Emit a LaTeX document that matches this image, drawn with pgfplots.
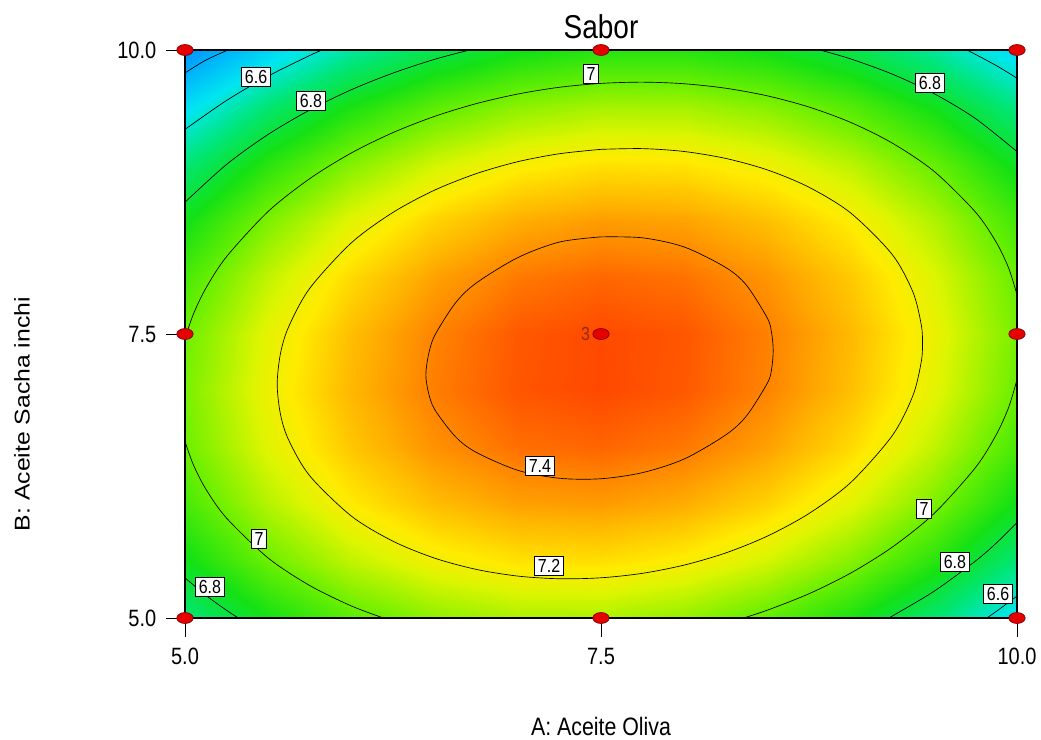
\documentclass[border=0pt]{standalone}
\usepackage{pgfplots}
\pgfplotsset{compat=1.18}
\usepackage{pgfplotstable}
\usepackage{graphicx}
\usepackage{fontspec}
\setmainfont{Liberation Sans}

\definecolor{mkfill}{RGB}{230,0,0}
\definecolor{mkdraw}{RGB}{120,0,0}
\definecolor{threecol}{RGB}{150,40,20}
\newcommand{\vs}[1]{\scalebox{1}[1.18]{#1}}

% response surface (Sabor) on a 11 x 11 grid: x = A, y = B, z = Sabor
\pgfplotstableread{
x y z
5 5 6.698
5.5 5 6.850
6 5 6.966
6.5 5 7.043
7 5 7.083
7.5 5 7.085
8 5 7.049
8.5 5 6.975
9 5 6.864
9.5 5 6.714
10 5 6.528
5 5.5 6.837
5.5 5.5 6.993
6 5.5 7.112
6.5 5.5 7.193
7 5.5 7.236
7.5 5.5 7.242
8 5.5 7.210
8.5 5.5 7.140
9 5.5 7.032
9.5 5.5 6.887
10 5.5 6.703
5 6 6.936
5.5 6 7.096
6 6 7.219
6.5 6 7.304
7 6 7.351
7.5 6 7.360
8 6 7.331
8.5 6 7.265
9 6 7.161
9.5 6 7.019
10 6 6.840
5 6.5 6.996
5.5 6.5 7.160
6 6.5 7.286
6.5 6.5 7.375
7 6.5 7.425
7.5 6.5 7.438
8 6.5 7.413
8.5 6.5 7.351
9 6.5 7.250
9.5 6.5 7.112
10 6.5 6.936
5 7 7.016
5.5 7 7.184
6 7 7.314
6.5 7 7.406
7 7 7.460
7.5 7 7.477
8 7 7.456
8.5 7 7.397
9 7 7.300
9.5 7 7.166
10 7 6.993
5 7.5 6.997
5.5 7.5 7.168
6 7.5 7.302
6.5 7.5 7.398
7 7.5 7.456
7.5 7.5 7.476
8 7.5 7.459
8.5 7.5 7.403
9 7.5 7.310
9.5 7.5 7.180
10 7.5 7.011
5 8 6.938
5.5 8 7.113
6 8 7.251
6.5 8 7.350
7 8 7.412
7.5 8 7.436
8 8 7.422
8.5 8 7.370
9 8 7.281
9.5 8 7.154
10 8 6.989
5 8.5 6.840
5.5 8.5 7.019
6 8.5 7.160
6.5 8.5 7.263
7 8.5 7.328
7.5 8.5 7.356
8 8.5 7.346
8.5 8.5 7.298
9 8.5 7.212
9.5 8.5 7.089
10 8.5 6.928
5 9 6.702
5.5 9 6.884
6 9 7.029
6.5 9 7.136
7 9 7.205
7.5 9 7.236
8 9 7.230
8.5 9 7.186
9 9 7.104
9.5 9 6.984
10 9 6.826
5 9.5 6.525
5.5 9.5 6.711
6 9.5 6.859
6.5 9.5 6.969
7 9.5 7.042
7.5 9.5 7.077
8 9.5 7.074
8.5 9.5 7.034
9 9.5 6.956
9.5 9.5 6.840
10 9.5 6.686
5 10 6.308
5.5 10 6.497
6 10 6.649
6.5 10 6.763
7 10 6.840
7.5 10 6.879
8 10 6.879
8.5 10 6.843
9 10 6.768
9.5 10 6.656
10 10 6.506
}\surfdata

\pgfplotstableread{
x y
5 5
7.5 5
10 5
5 7.5
10 7.5
5 10
7.5 10
10 10
7.5 7.5
}\designpts

\tikzset{clab/.style={fill=white, draw=black, line width=0.4pt, inner xsep=2.4pt, inner ysep=2.2pt, font=\fontsize{12}{12}\selectfont}}

\begin{document}
\begin{tikzpicture}
\begin{axis}[
  at={(0pt,0pt)}, anchor=south west,
  width=624pt, height=426pt, scale only axis,
  xmin=5, xmax=10, ymin=5, ymax=10,
  xtick={5,7.5,10}, ytick={5,7.5,10},
  xticklabels={\vs{5.0},\vs{7.5},\vs{10.0}}, yticklabels={\vs{5.0},\vs{7.5},\vs{10.0}},
  tick align=outside, tick pos=left, major tick length=14pt,
  tick style={black, line width=0.6pt},
  ticklabel style={font=\fontsize{15}{18}\selectfont},
  yticklabel style={xshift=-4pt},
  xticklabel style={yshift=-5pt},
  axis line style={line width=0.8pt},
  clip=false,
  colormap={de}{rgb255(620pt)=(0,90,255); rgb255(635pt)=(0,160,255); rgb255(655pt)=(0,230,240); rgb255(670pt)=(0,230,120); rgb255(685pt)=(20,225,20); rgb255(700pt)=(110,240,0); rgb255(715pt)=(220,245,0); rgb255(722pt)=(255,235,0); rgb255(732pt)=(255,180,0); rgb255(740pt)=(255,130,0); rgb255(748pt)=(255,70,0); rgb255(760pt)=(255,20,0)},
  point meta min=6.2, point meta max=7.6,
  every axis title shift=0pt,
  title={\vs{Sabor}},
  title style={font=\fontsize{21}{25}\selectfont, at={(axis description cs:0.5,1.021)}, anchor=base},
  xlabel={\vs{A: Aceite Oliva}},
  xlabel style={font=\fontsize{16}{19}\selectfont, at={(axis description cs:0.5,-0.206)}, anchor=base},
  ylabel={\scalebox{1.16}[1]{B: Aceite Sacha inchi}},
  ylabel style={font=\fontsize{16}{19}\selectfont, at={(axis description cs:-0.196,0.359)}, anchor=center},
]
\addplot[surf, shader=interp, mesh/rows=11, mesh/cols=11, point meta=\thisrow{z}] table[x=x, y=y] {\surfdata};

% contour lines
\addplot[black, line width=0.5pt, smooth] coordinates {(5.259,10) (5.125,9.911) (5,9.798)};
\addplot[black, line width=0.5pt, smooth] coordinates {(5.824,10) (5.75,9.952) (5.5,9.7705) (5.25,9.556) (5,9.301)};
\addplot[black, line width=0.5pt, smooth] coordinates {(6.71,10) (6.5,9.918) (6.25,9.797) (6.0,9.6505) (5.75,9.472) (5.5,9.257) (5.25,8.993) (5,8.660)};
\addplot[black, line width=0.5pt, smooth] coordinates {(5,7.46) (5.05,7.6735) (5.125,7.902) (5.25,8.1815) (5.5,8.579) (5.75,8.868) (6,9.094) (6.25,9.273) (6.5,9.416) (6.75,9.528) (7,9.6125) (7.25,9.672) (7.5,9.706) (7.75,9.717) (8,9.703) (8.25,9.6635) (8.5,9.5965) (8.75,9.498) (9,9.363) (9.25,9.181) (9.5,8.934) (9.75,8.574) (9.875,8.308) (9.95,8.08) (10,7.846)};
\addplot[black, line width=0.5pt, smooth] coordinates {(5,6.554) (5.05,6.35) (5.125,6.1355) (5.25,5.879) (5.5,5.528) (5.75,5.2855) (6,5.106) (6.193,5)};
\addplot[black, line width=0.5pt, smooth] coordinates {(8.3565,5) (8.5,5.069) (8.75,5.2135) (9,5.395) (9.25,5.6235) (9.5,5.9175) (9.75,6.3235) (9.875,6.613) (9.95,6.855) (10,7.098)};
\addplot[black, line width=0.5pt, smooth] coordinates {(8.815,10) (9,9.922) (9.25,9.788) (9.5,9.617) (9.75,9.397) (10,9.1055)};
\addplot[black, line width=0.5pt, smooth] coordinates {(5,5.354) (5.125,5.2) (5.25,5.0675) (5.321,5)};
\addplot[black, line width=0.5pt, smooth] coordinates {(9.229,5) (9.25,5.017) (9.5,5.234) (9.75,5.501) (9.875,5.659) (10,5.839)};
\addplot[black, line width=0.5pt, smooth] coordinates {(9.7,10) (9.875,9.8635) (10,9.7515)};
\addplot[black, line width=0.5pt, smooth] coordinates {(9.818,5) (9.875,5.0575) (10,5.193)};
\addplot[black, line width=0.5pt, smooth] coordinates {(7.5,9.1255) (7.75,9.132) (8.0,9.1065) (8.25,9.0455) (8.5,8.9445) (8.75,8.792) (9.0,8.566) (9.25,8.2) (9.375,7.868) (9.425,7.579) (9.432,7.4195) (9.425,7.258) (9.375,6.96) (9.25,6.605) (9.0,6.192) (8.75,5.92) (8.5,5.721) (8.25,5.573) (8.0,5.466) (7.75,5.3935) (7.5,5.354) (7.25,5.3455) (7.0,5.369) (6.75,5.428) (6.5,5.527) (6.25,5.676) (6.0,5.897) (5.75,6.251) (5.625,6.5605) (5.575,6.784) (5.554,7.0585) (5.575,7.3375) (5.625,7.57) (5.75,7.9028) (6.0,8.303) (6.25,8.5705) (6.5,8.7665) (6.75,8.9115) (7.0,9.017) (7.25,9.087) (7.5,9.1255)};
\addplot[black, line width=0.5pt, smooth] coordinates {(7.5,8.355) (7.75,8.3466) (8.0,8.266) (8.25,8.0854) (8.375,7.9277) (8.5,7.6386) (8.525,7.5118) (8.535,7.3538) (8.525,7.189) (8.5,7.0685) (8.375,6.78) (8.25,6.612) (8.0,6.40) (7.75,6.28) (7.5,6.226) (7.25,6.23) (7.0,6.30) (6.75,6.4585) (6.625,6.5965) (6.5,6.837) (6.4625,6.989) (6.4475,7.1408) (6.4625,7.3113) (6.5,7.4848) (6.625,7.7728) (6.75,7.9484) (7.0,8.1726) (7.25,8.3095) (7.5,8.355)};

% frame
\draw[black, line width=0.8pt] (rel axis cs:0,0) rectangle (rel axis cs:1,1);

% contour labels
\node[clab] at (axis cs:5.427,9.762) {\vs{6.6}};
\node[clab] at (axis cs:5.757,9.551) {\vs{6.8}};
\node[clab] at (axis cs:7.44,9.789) {\vs{7}};
\node[clab] at (axis cs:9.477,9.71) {\vs{6.8}};
\node[clab] at (axis cs:7.133,6.338) {\vs{7.4}};
\node[clab] at (axis cs:7.188,5.458) {\vs{7.2}};
\node[clab] at (axis cs:5.445,5.695) {\vs{7}};
\node[clab] at (axis cs:5.15,5.273) {\vs{6.8}};
\node[clab] at (axis cs:9.441,5.96) {\vs{7}};
\node[clab] at (axis cs:9.627,5.493) {\vs{6.8}};
\node[clab] at (axis cs:9.886,5.211) {\vs{6.6}};

% design points
\addplot[only marks, mark=*, mark size=4.1pt, mark options={xscale=1.5, fill=mkfill, draw=mkdraw, line width=0.5pt}] table[x=x, y=y] {\designpts};
\node[anchor=east, text=threecol, font=\fontsize{12}{12}\selectfont, inner sep=0pt] at (axis cs:7.5,7.5) [xshift=-8pt] {\vs{3}};
\end{axis}
\path[use as bounding box] (-138.75pt,-89.25pt) rectangle (642pt,463.5pt);
\end{tikzpicture}
\end{document}
